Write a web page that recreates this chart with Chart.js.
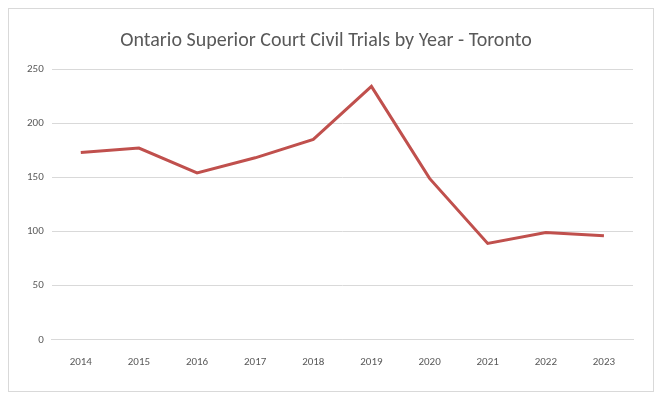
<!DOCTYPE html>
<html>
<head>
<meta charset="utf-8">
<script src="https://cdn.jsdelivr.net/npm/chart.js@4"></script>
<style>
    body { margin: 0; background: #fff; }
    #wrap { position: absolute; left: 8px; top: 8px; width: 646px; height: 384px; border: 1px solid #d9d9d9; box-sizing: border-box; }
</style>
</head>
<body>
<div id="wrap"><canvas id="trialsChart"></canvas></div>
<script>
// Chart data
const years = ['2014', '2015', '2016', '2017', '2018', '2019', '2020', '2021', '2022', '2023'];
const trials = [173, 177, 154, 168, 185, 234, 149, 89, 99, 96];
const yTicks = [0, 50, 100, 150, 200, 250];

const ctx = document.getElementById('trialsChart').getContext('2d');

new Chart(ctx, {
    type: 'line',
    data: {
        labels: years,
        datasets: [{
            label: 'Civil Trials',
            data: trials,
            borderColor: '#c0504d',
            borderWidth: 3,
            pointRadius: 0,
            tension: 0,
            fill: false
        }]
    },
    options: {
        responsive: true,
        maintainAspectRatio: false,
        animation: false,
        layout: { padding: { left: 10, right: 20, top: 6, bottom: 14 } },
        scales: {
            y: {
                min: 0,
                max: 250,
                afterBuildTicks: axis => { axis.ticks = yTicks.map(v => ({ value: v })); },
                grid: { color: '#d9d9d9', drawTicks: false },
                border: { display: false },
                ticks: { color: '#595959', font: { size: 11, family: 'Carlito, Calibri, "Open Sans", sans-serif' }, padding: 8 }
            },
            x: {
                offset: true,
                grid: { display: false },
                border: { color: '#d9d9d9' },
                ticks: { color: '#595959', font: { size: 11, family: 'Carlito, Calibri, "Open Sans", sans-serif' }, padding: 8 }
            }
        },
        plugins: {
            legend: { display: false },
            tooltip: { enabled: false },
            title: {
                display: true,
                text: 'Ontario Superior Court Civil Trials by Year - Toronto',
                color: '#595959',
                font: { size: 20, weight: 'normal', family: 'Carlito, Calibri, "Open Sans", sans-serif' },
                padding: { top: 14, bottom: 16 }
            }
        }
    }
});
</script>
</body>
</html>
